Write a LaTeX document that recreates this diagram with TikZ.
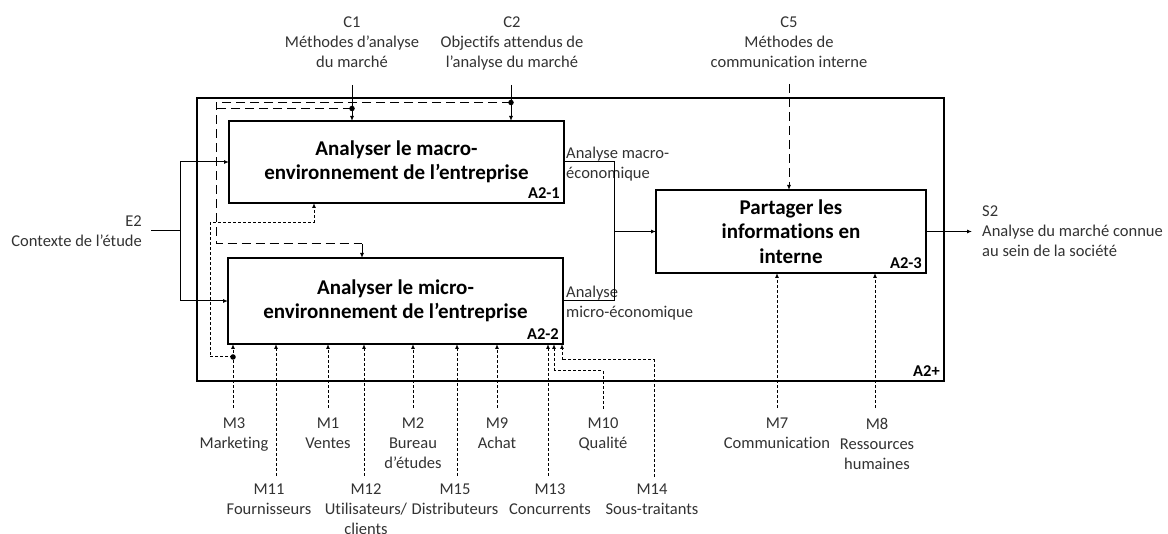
\documentclass[tikz,border=0pt]{standalone}
\usepackage{fontspec}
\setmainfont{Carlito}[Ligatures=NoCommon]
\usetikzlibrary{arrows.meta}
\tikzset{
  lbl/.style={font=\fontsize{16.5}{20}\selectfont, text=black!80, inner sep=0pt, align=center},
  proc/.style={draw, line width=2.4pt, outer sep=0pt, inner sep=0pt, align=center,
               font=\fontsize{21}{24.5}\selectfont\bfseries},
  idl/.style={font=\fontsize{16.5}{20}\selectfont\bfseries, inner sep=0pt},
  conn/.style={line width=1pt},
  arr/.style={conn, -{Latex[length=5pt,width=4pt]}},
  clong/.style={dash pattern=on 9pt off 5pt},
  mdot/.style={dash pattern=on 3pt off 2pt},
  junc/.style={circle, fill, inner sep=0pt, minimum size=5.5pt}
}
\begin{document}
\begin{tikzpicture}[x=1pt,y=-1pt]
\useasboundingbox (0,0) rectangle (1168,534);
\fill[white] (0,0) rectangle (1168,534);

% outer box
\node[draw, line width=2.4pt, outer sep=0pt, minimum width=747pt, minimum height=283pt] (A2) at (570.5,239.5) {};
\node[idl, anchor=south east] (A2id) at ([shift={(-4pt,4pt)}]A2.south east) {A2+};

% activity boxes
\node[proc, minimum width=335pt, minimum height=82pt] (A21) at (396.5,162) {Analyser le macro-\\environnement de l’entreprise};
\node[idl, anchor=south east] (A21id) at ([shift={(-4pt,4pt)}]A21.south east) {A2-1};
\node[proc, minimum width=335pt, minimum height=86pt] (A22) at (395.5,301) {Analyser le micro-\\environnement de l’entreprise};
\node[idl, anchor=south east] (A22id) at ([shift={(-4pt,4pt)}]A22.south east) {A2-2};
\node[proc, minimum width=270pt, minimum height=83pt] (A23) at (791,231.5) {Partager les\\informations en\\interne};
\node[idl, anchor=south east] (A23id) at ([shift={(-4pt,4pt)}]A23.south east) {A2-3};

% top labels
\node[lbl, anchor=north] (C1) at (352,17) {C1\\Méthodes d’analyse\\du marché};
\node[lbl, anchor=north] (C2) at (512,17) {C2\\Objectifs attendus de\\l’analyse du marché};
\node[lbl, anchor=north] (C5) at (789,17) {C5\\Méthodes de\\communication interne};

% left and right labels
\node[lbl, anchor=north east, align=right] (E2) at (142,216) {E2\\Contexte de l’étude};
\node[lbl, anchor=north west, align=left] (S2) at (982,206) {S2\\Analyse du marché connue\\au sein de la société};
\node[lbl, anchor=north west, align=left] (O1) at (566,147) {Analyse macro-\\économique};
\node[lbl, anchor=north west, align=left] (O2) at (566,286) {Analyse\\micro-économique};

% bottom labels, first row
\node[lbl, anchor=north] (M3) at (234,418) {M3\\Marketing};
\node[lbl, anchor=north] (M1) at (328,418) {M1\\Ventes};
\node[lbl, anchor=north] (M2) at (413,418) {M2\\Bureau\\d’études};
\node[lbl, anchor=north] (M9) at (497,418) {M9\\Achat};
\node[lbl, anchor=north] (M10) at (603,418) {M10\\Qualité};
\node[lbl, anchor=north] (M7) at (777,418) {M7\\Communication};
\node[lbl, anchor=north] (M8) at (877,418) {M8\\Ressources\\humaines};
% bottom labels, second row
\node[lbl, anchor=north] (M11) at (269,484) {M11\\Fournisseurs};
\node[lbl, anchor=north] (M12) at (366,484) {M12\\Utilisateurs/\\clients};
\node[lbl, anchor=north] (M15) at (455,484) {M15\\Distributeurs};
\node[lbl, anchor=north] (M13) at (550,484) {M13\\Concurrents};
\node[lbl, anchor=north] (M14) at (652,484) {M14\\Sous-traitants};

% ---------- coordinates of free ends and bends ----------
\coordinate (c1s) at (352,85);
\coordinate (c2s) at (511,85);
\coordinate (c5s) at (789,84);
\coordinate (c1d) at (352,108.5);
\coordinate (c2d) at (511,102.5);
\coordinate (cb1) at (216,102.5);
\coordinate (cb2) at (216,244);
\coordinate (cb3) at (362,244);
\coordinate (cb4) at (216,108.5);
\coordinate (e2s) at (151,231);
\coordinate (e2j) at (180,231);
\coordinate (oj) at (614,231.5);
\coordinate (s2e) at (972,231.5);
\coordinate (m3s) at (233,408);
\coordinate (m3d) at (233,357);
\coordinate (mb1) at (210,357);
\coordinate (mb2) at (210,223);
\coordinate (mb3) at (314,223);
\coordinate (m1s) at (328,408);
\coordinate (m2s) at (413,408);
\coordinate (m9s) at (497,408);
\coordinate (m10s) at (603,409);
\coordinate (m10b) at (603,371);
\coordinate (m10c) at (554,371);
\coordinate (m7s) at (777,408);
\coordinate (m8s) at (875,408);
\coordinate (m11s) at (276,476);
\coordinate (m12s) at (364,476);
\coordinate (m15s) at (457,476);
\coordinate (m13s) at (548,476);
\coordinate (m14s) at (654,477);
\coordinate (m14b) at (654,360);
\coordinate (m14c) at (562,360);

% controls
\draw[arr] (c1s) -- (c1s |- A21.north);
\draw[arr] (c2s) -- (c2s |- A21.north);
\draw[arr, clong] (c5s) -- (c5s |- A23.north);
\draw[conn, clong] (c2d) -- (cb1) -- (cb2) -- (cb3);
\draw[arr, clong] (cb3) -- (cb3 |- A22.north);
\draw[conn, clong] (c1d) -- (cb4);
\node[junc] at (c1d) {};
\node[junc] at (c2d) {};

% input
\draw[conn] (e2s) -- (e2j);
\draw[arr] (e2j) |- (A21.west);
\draw[arr] (e2j) |- (A22.west);

% outputs
\draw[conn] (A21.east) -| (oj);
\draw[conn] (A22.east) -| (oj);
\draw[arr] (oj) -- (A23.west);
\draw[arr] (A23.east) -- (s2e);

% mechanisms
\draw[arr, mdot] (m3s) -- (m3s |- A22.south);
\draw[conn, mdot] (m3d) -- (mb1) -- (mb2) -- (mb3);
\draw[arr, mdot] (mb3) -- (mb3 |- A21.south);
\node[junc] at (m3d) {};
\draw[arr, mdot] (m11s) -- (m11s |- A22.south);
\draw[arr, mdot] (m1s) -- (m1s |- A22.south);
\draw[arr, mdot] (m12s) -- (m12s |- A22.south);
\draw[arr, mdot] (m2s) -- (m2s |- A22.south);
\draw[arr, mdot] (m15s) -- (m15s |- A22.south);
\draw[arr, mdot] (m9s) -- (m9s |- A22.south);
\draw[arr, mdot] (m13s) -- (m13s |- A22.south);
\draw[conn, mdot] (m10s) -- (m10b) -- (m10c);
\draw[arr, mdot] (m10c) -- (m10c |- A22.south);
\draw[conn, mdot] (m14s) -- (m14b) -- (m14c);
\draw[arr, mdot] (m14c) -- (m14c |- A22.south);
\draw[arr, mdot] (m7s) -- (m7s |- A23.south);
\draw[arr, mdot] (m8s) -- (m8s |- A23.south);
\end{tikzpicture}
\end{document}
